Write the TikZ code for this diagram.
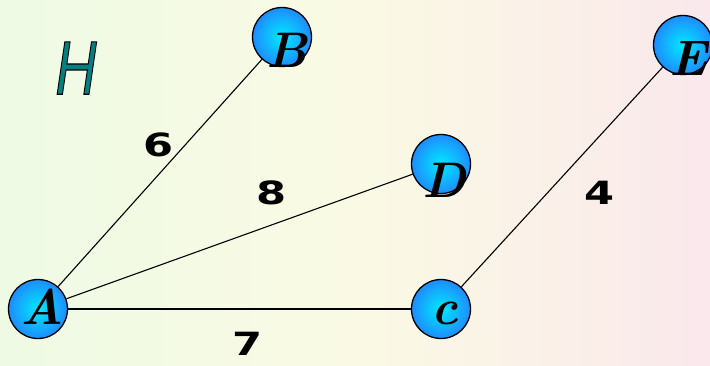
\documentclass[tikz,border=0pt]{standalone}
\usepackage{fontspec}
\usepackage{graphicx}
\newfontfamily\numfont{DejaVu Sans}
\newfontfamily\hfont{Liberation Sans}
\definecolor{cin}{RGB}{0,235,255}
\definecolor{cout}{RGB}{30,140,255}
\definecolor{hteal}{RGB}{0,128,128}
\pgfdeclarehorizontalshading{bgshade}{100bp}{
  color(0bp)=(rgb,255:red,226;green,248;blue,242);
  color(25bp)=(rgb,255:red,238;green,250;blue,228);
  color(50bp)=(rgb,255:red,250;green,250;blue,228);
  color(75bp)=(rgb,255:red,250;green,232;blue,236);
  color(100bp)=(rgb,255:red,248;green,228;blue,242)}
\tikzset{
  vtx/.style={circle, draw=black, line width=1.3pt, minimum size=59pt, inner sep=0pt,
    shading=radial, inner color=cin, outer color=cout},
  vlab/.style={inner sep=0pt, font=\fontsize{50}{50}\selectfont\bfseries\itshape},
  elab/.style={inner sep=0pt, font=\fontsize{32}{32}\numfont\bfseries},
  edge/.style={draw=black, line width=1.1pt}
}
\begin{document}
\begin{tikzpicture}[x=1pt, y=-1pt]
\useasboundingbox (0,0) rectangle (710,365);
\shade[shading=bgshade] (0,0) rectangle (710,365);
% vertices
\node[vtx] (A) at (38,309) {};
\node[vtx] (B) at (282,37) {};
\node[vtx] (D) at (441,164) {};
\node[vtx] (C) at (441,309) {};
\node[vtx] (E) at (683,45) {};
% edges
\draw[edge] (A) -- (B);
\draw[edge] (A) -- (D);
\draw[edge] (A) -- (C);
\draw[edge] (C) -- (E);
% vertex letters
\node[vlab] (tA) at (42,307) {A};
\node[vlab] (tB) at (287,50) {B};
\node[vlab] (tC) at (445,313) {c};
\node[vlab] (tD) at (444,180) {D};
\node[vlab] (tE) at (688,58) {E};
% edge weights
\node[elab] (w6) at (159,145) {\scalebox{1.35}[1]{6}};
\node[elab] (w8) at (272,193) {\scalebox{1.35}[1]{8}};
\node[elab] (w4) at (600,193) {\scalebox{1.35}[1]{4}};
\node[elab] (w7) at (248,344) {\scalebox{1.35}[1]{7}};
% title
\node[inner sep=0pt, font=\fontsize{76}{76}\hfont\itshape] (H) at (76,68)
  {\scalebox{0.75}[1]{\color{hteal}\special{pdf:literal direct 0 G 2 Tr 1.2 w}H\special{pdf:literal direct 0 Tr}}};
\end{tikzpicture}
\end{document}
